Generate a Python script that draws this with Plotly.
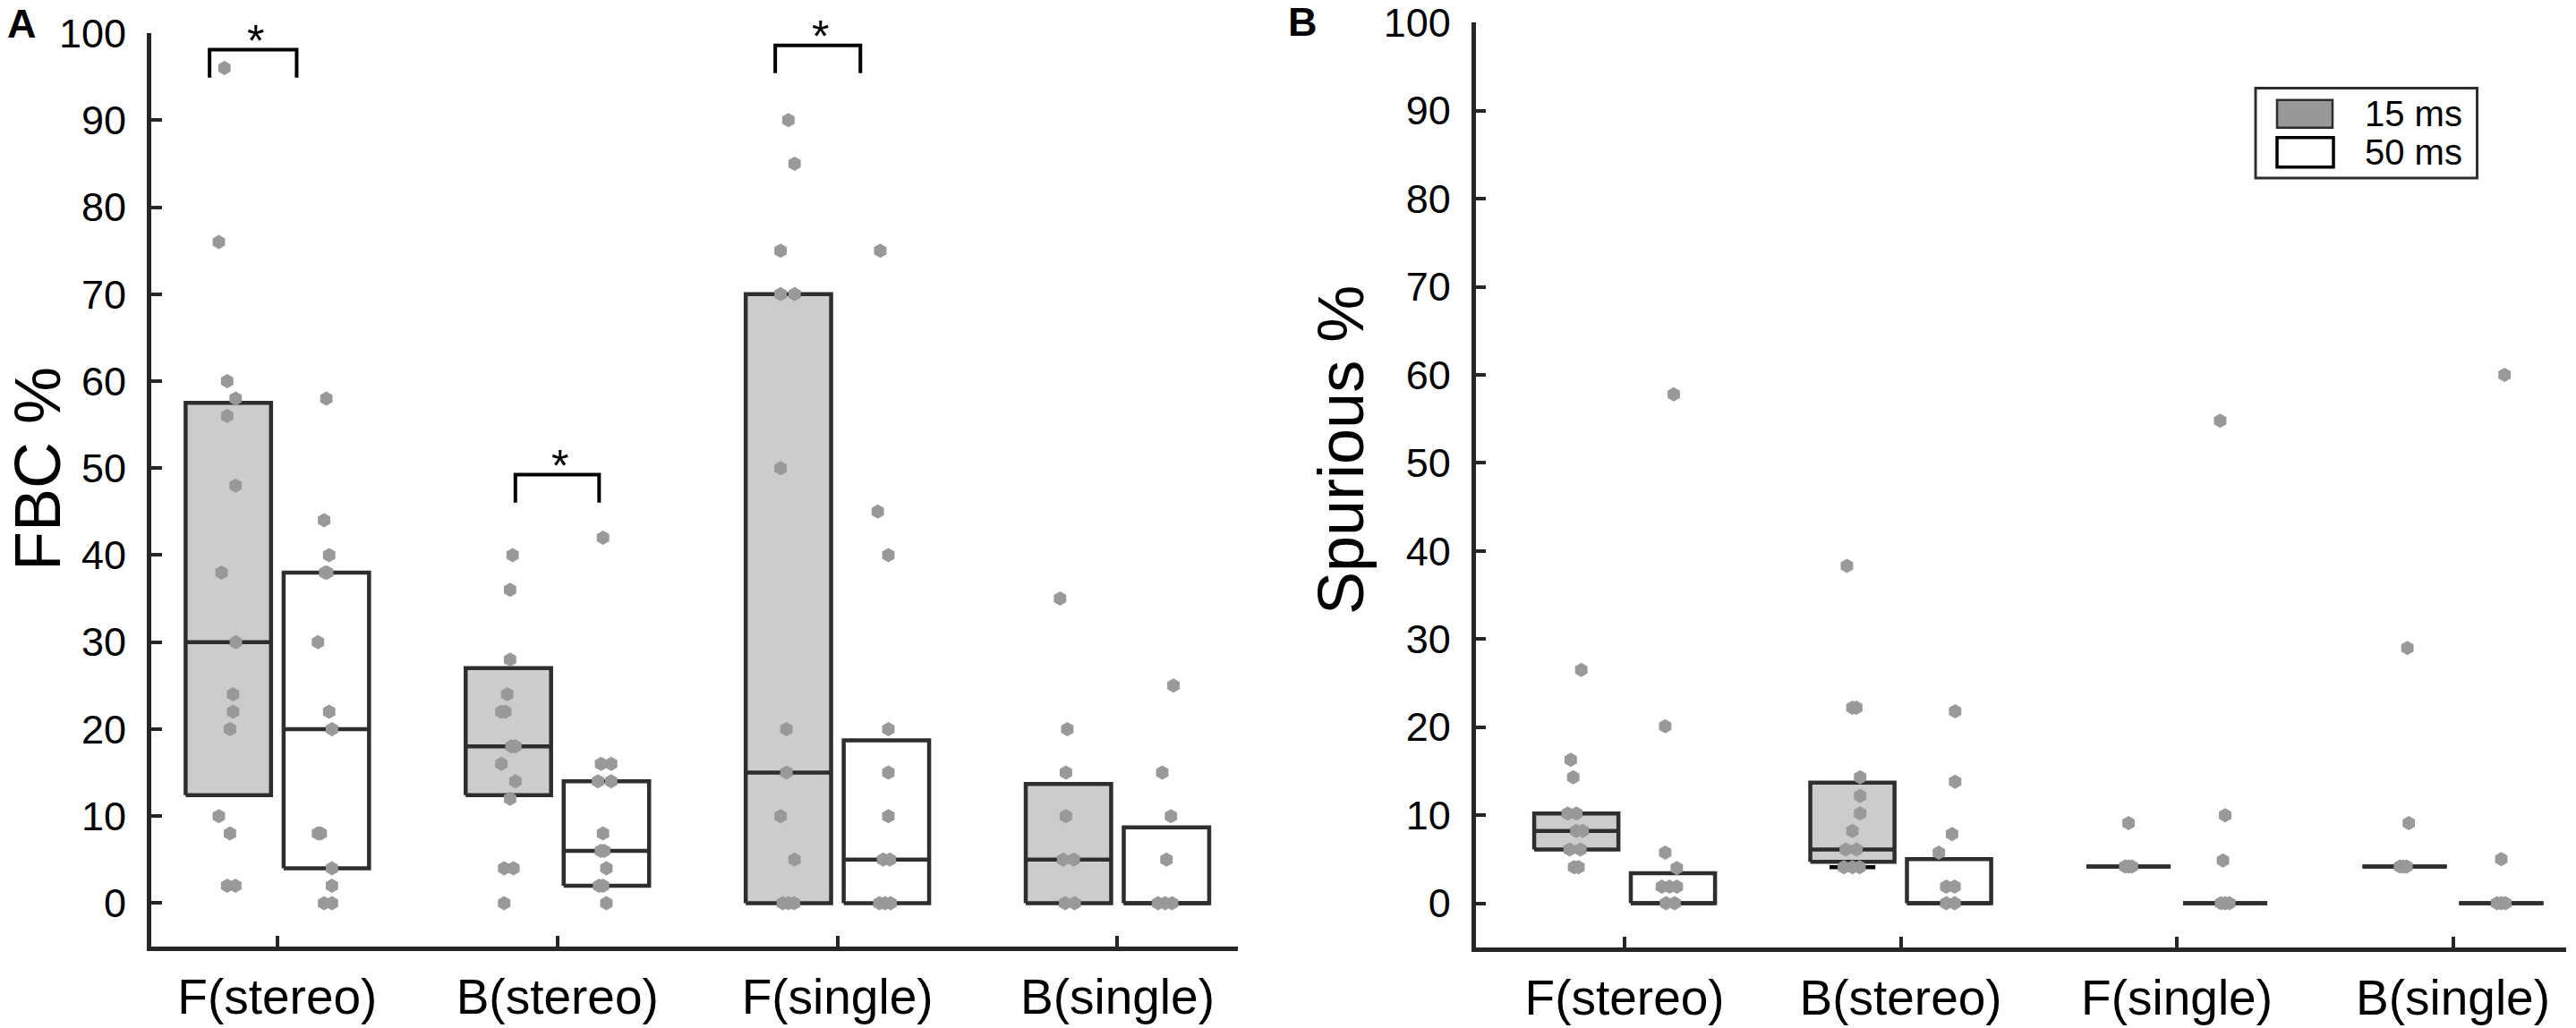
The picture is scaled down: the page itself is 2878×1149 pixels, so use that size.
import plotly.graph_objects as go

# ---- data ----
categories = ["F(stereo)", "B(stereo)", "F(single)", "B(single)"]

# panel A: FBC %
fbc_15_q1 = [12.4, 12.4, 0, 0]
fbc_15_med = [30, 18, 15, 5]
fbc_15_q3 = [57.5, 27, 70, 13.7]
fbc_50_q1 = [4, 2, 0, 0]
fbc_50_med = [20, 6, 5, 0]
fbc_50_q3 = [38, 14, 18.7, 8.7]

fbc_15_pts = [
    [96, 76, 60, 58, 56, 48, 38, 30, 24, 22, 20, 10, 8, 2, 2],
    [40, 36, 28, 24, 22, 22, 18, 18, 16, 14, 12, 4, 4, 0],
    [90, 85, 75, 70, 70, 50, 20, 15, 10, 5, 0, 0, 0],
    [35, 20, 15, 10, 5, 5, 0, 0],
]
fbc_15_jit = [
    [-0.014, -0.034, -0.004, 0.026, -0.004, 0.026, -0.024, 0.027, 0.017, 0.017, 0.006, -0.034, 0.006, -0.004, 0.025],
    [0.015, 0.006, 0.006, -0.004, -0.025, -0.011, 0.011, 0.025, -0.025, 0.025, 0.006, -0.015, 0.018, -0.015],
    [0.0, 0.022, -0.028, -0.028, 0.022, -0.028, -0.007, -0.007, -0.028, 0.022, -0.02, 0.0, 0.02],
    [-0.03, -0.004, -0.009, -0.009, -0.019, 0.019, -0.012, 0.022],
]
fbc_50_pts = [
    [58, 44, 40, 38, 38, 30, 22, 20, 8, 8, 4, 2, 0, 0],
    [42, 16, 16, 14, 14, 8, 6, 6, 4, 2, 2, 0],
    [75, 45, 40, 20, 15, 10, 5, 5, 0, 0, 0],
    [25, 15, 10, 5, 0, 0, 0],
]
fbc_50_jit = [
    [0.0, -0.008, 0.01, -0.004, 0.003, -0.03, 0.01, 0.02, -0.03, -0.02, 0.02, 0.02, -0.008, 0.02],
    [-0.012, -0.019, 0.017, -0.03, 0.017, -0.012, -0.02, -0.008, 0.0, -0.026, -0.012, 0.0],
    [-0.022, -0.031, 0.007, 0.007, 0.007, 0.007, -0.012, 0.012, -0.025, -0.005, 0.015],
    [0.025, -0.015, 0.016, 0.0, -0.03, -0.005, 0.02],
]

# significance brackets in panel A: (left, right, top)
sig_left = [0.758, 1.85, 2.778]
sig_right = [1.069, 2.149, 3.082]
sig_top = [98.1, 49.25, 98.6]

# panel B: Spurious %
spur_15_q1 = [6.1, 4.7, 4.17, 4.17]
spur_15_med = [8.2, 6.1, 4.17, 4.17]
spur_15_q3 = [10.2, 13.7, 4.17, 4.17]
spur_15_floor = [None, 4.1, None, None]
spur_50_q1 = [0, 0, 0, 0]
spur_50_med = [0, 0, 0, 0]
spur_50_q3 = [3.4, 5.0, 0, 0]

spur_15_pts = [
    [26.5, 16.3, 14.3, 10.2, 10.2, 8.2, 8.2, 6.1, 6.1, 4.1, 4.1],
    [38.3, 22.2, 22.2, 14.3, 12.2, 10.2, 8.2, 6.1, 6.1, 4.1, 4.1, 4.1],
    [9.1, 4.17, 4.17, 4.17],
    [29.0, 9.1, 4.17, 4.17, 4.17],
]
spur_15_jit = [
    [0.018, -0.02, -0.011, -0.031, 0.0, 0.0, 0.023, -0.024, 0.015, -0.008, 0.008],
    [-0.02, 0.0, 0.014, 0.028, 0.028, 0.028, 0.0, -0.024, 0.015, -0.031, 0.0, 0.026],
    [0.0, -0.012, 0.0, 0.012],
    [0.01, 0.015, -0.017, -0.005, 0.007],
]
spur_50_pts = [
    [57.8, 20.1, 5.75, 4.0, 1.9, 1.9, 1.9, 0, 0],
    [21.8, 13.8, 7.85, 5.75, 1.9, 1.9, 0, 0],
    [54.8, 10.0, 4.85, 0, 0, 0],
    [60, 5, 0, 0, 0],
]
spur_50_jit = [
    [0.003, -0.028, -0.028, 0.014, -0.04, -0.012, 0.014, -0.025, 0.006],
    [0.022, 0.022, 0.011, -0.037, -0.01, 0.02, -0.01, 0.02],
    [-0.018, 0.0, -0.008, -0.015, 0.0, 0.015],
    [0.012, 0.0, -0.015, 0.0, 0.015],
]

W, H = 2878, 1149
OFF = 0.175
BOX_W = 0.305
EDGE = "#2e2e2e"
AXIS = "#262626"
FILL_15 = "#cccccc"
DOT = "#999999"
FONT = "Liberation Sans, Arial, Helvetica, sans-serif"


def px(x):
    return x / W


def py(y):
    return 1 - y / H


def draw_boxes(fig, q1, med, q3, off, fill, xa, ya):
    bx, by, mx, my = [], [], [], []
    for i in range(len(categories)):
        xc = i + 1 + off
        x0, x1 = xc - BOX_W / 2, xc + BOX_W / 2
        bx += [x0, x1, x1, x0, x0, None]
        by += [q1[i], q1[i], q3[i], q3[i], q1[i], None]
        mx += [x0, x1, None]
        my += [med[i], med[i], None]
    fig.add_trace(go.Scatter(x=bx, y=by, mode="lines", fill="toself", fillcolor=fill,
                             line=dict(color=EDGE, width=4.5), xaxis=xa, yaxis=ya,
                             showlegend=False, hoverinfo="skip"))
    fig.add_trace(go.Scatter(x=mx, y=my, mode="lines", line=dict(color=EDGE, width=4.5),
                             xaxis=xa, yaxis=ya, showlegend=False, hoverinfo="skip"))


def draw_dots(fig, pts, jit, off, xa, ya):
    xs, ys = [], []
    for i, (vals, js) in enumerate(zip(pts, jit)):
        for v, j in zip(vals, js):
            xs.append(i + 1 + off + j)
            ys.append(v)
    fig.add_trace(go.Scatter(x=xs, y=ys, mode="markers",
                             marker=dict(symbol="hexagon", size=16, color=DOT, line=dict(width=0)),
                             xaxis=xa, yaxis=ya, showlegend=False))


fig = go.Figure()

# panel A
draw_boxes(fig, fbc_15_q1, fbc_15_med, fbc_15_q3, -OFF, FILL_15, "x", "y")
draw_boxes(fig, fbc_50_q1, fbc_50_med, fbc_50_q3, OFF, "white", "x", "y")
draw_dots(fig, fbc_15_pts, fbc_15_jit, -OFF, "x", "y")
draw_dots(fig, fbc_50_pts, fbc_50_jit, OFF, "x", "y")

# panel B
draw_boxes(fig, spur_15_q1, spur_15_med, spur_15_q3, -OFF, FILL_15, "x2", "y2")
draw_boxes(fig, spur_50_q1, spur_50_med, spur_50_q3, OFF, "white", "x2", "y2")
fx, fy = [], []
for i, v in enumerate(spur_15_floor):
    if v is not None:
        fx += [i + 1 - OFF - 0.083, i + 1 - OFF + 0.083, None]
        fy += [v, v, None]
fig.add_trace(go.Scatter(x=fx, y=fy, mode="lines", line=dict(color="black", width=4.5),
                         xaxis="x2", yaxis="y2", showlegend=False, hoverinfo="skip"))
draw_dots(fig, spur_15_pts, spur_15_jit, -OFF, "x2", "y2")
draw_dots(fig, spur_50_pts, spur_50_jit, OFF, "x2", "y2")

shapes = []
annotations = []

# significance brackets + stars
for x0, x1, top in zip(sig_left, sig_right, sig_top):
    bot = top - 3.2
    shapes.append(dict(type="path", xref="x", yref="y",
                       path=f"M {x0},{bot} L {x0},{top} L {x1},{top} L {x1},{bot}",
                       line=dict(color="black", width=4)))
    annotations.append(dict(x=(x0 + x1) / 2 + 0.01, y=top + 1.0, xref="x", yref="y",
                            text="*", showarrow=False, font=dict(size=50, color="black", family=FONT),
                            xanchor="center", yanchor="middle"))

# legend (drawn by hand, top right of panel B)
shapes.append(dict(type="rect", xref="paper", yref="paper", x0=px(2520), x1=px(2767.5),
                   y0=py(199), y1=py(98.4), line=dict(color=EDGE, width=3), fillcolor="white"))
shapes.append(dict(type="rect", xref="paper", yref="paper", x0=px(2544), x1=px(2606),
                   y0=py(142.7), y1=py(111.7), line=dict(color=EDGE, width=2.5), fillcolor="#999999"))
shapes.append(dict(type="rect", xref="paper", yref="paper", x0=px(2544), x1=px(2607),
                   y0=py(186.8), y1=py(153.8), line=dict(color="black", width=3.5), fillcolor="white"))
for label, yc in [("15 ms", 127), ("50 ms", 170)]:
    annotations.append(dict(x=px(2640), y=py(yc), xref="paper", yref="paper", text=label,
                            showarrow=False, xanchor="left", yanchor="middle",
                            font=dict(size=40, color="black", family=FONT)))

# axis titles and panel letters
annotations.append(dict(x=0, y=py(524), xref="paper", yref="paper", text="FBC %",
                        textangle=-90, showarrow=False, xanchor="left", yanchor="middle",
                        font=dict(size=72, color="black", family=FONT)))
annotations.append(dict(x=px(1498), y=py(503), xref="paper", yref="paper", text="Spurious %",
                        textangle=-90, showarrow=False, xanchor="center", yanchor="middle",
                        font=dict(size=72, color="black", family=FONT)))
annotations.append(dict(x=px(24), y=py(26), xref="paper", yref="paper", text="<b>A</b>",
                        showarrow=False, xanchor="center", yanchor="middle",
                        font=dict(size=45, color="black", family=FONT)))
annotations.append(dict(x=px(1455), y=py(25), xref="paper", yref="paper", text="<b>B</b>",
                        showarrow=False, xanchor="center", yanchor="middle",
                        font=dict(size=45, color="black", family=FONT)))

xaxis_style = dict(tickvals=[1, 2, 3, 4], ticktext=categories, ticks="inside", ticklen=12,
                   tickwidth=4, tickcolor=AXIS, showline=True, linecolor=AXIS, linewidth=4.5,
                   showgrid=False, zeroline=False, ticklabelstandoff=4, automargin=False,
                   tickfont=dict(size=55, color="black", family=FONT))
yaxis_style = dict(tickvals=list(range(0, 101, 10)), ticks="inside", ticklen=12, tickwidth=4,
                   tickcolor=AXIS, showline=True, linecolor=AXIS, linewidth=4.5, showgrid=False,
                   zeroline=False, range=[-5, 100], ticklabelstandoff=14, automargin=False,
                   tickfont=dict(size=45, color="black", family=FONT))

fig.update_layout(
    width=W, height=H,
    margin=dict(l=0, r=0, t=0, b=0, autoexpand=False),
    paper_bgcolor="white", plot_bgcolor="white",
    showlegend=False,
    xaxis=dict(domain=[px(168.75), px(1383)], range=[0.549, 4.43], **xaxis_style),
    yaxis=dict(domain=[py(1058), py(37.1)], anchor="x", **yaxis_style),
    xaxis2=dict(domain=[px(1648.5), px(2867)], range=[0.46, 4.41], anchor="y2", **xaxis_style),
    yaxis2=dict(domain=[py(1058.8), py(25.3)], anchor="x2", **yaxis_style),
    shapes=shapes,
    annotations=annotations,
)

# page body has a default 8px margin; drop it so the figure sits at the window corner
fig.write_html("out.html", config={"displayModeBar": False},
               post_script="document.body.style.margin='0px';")
